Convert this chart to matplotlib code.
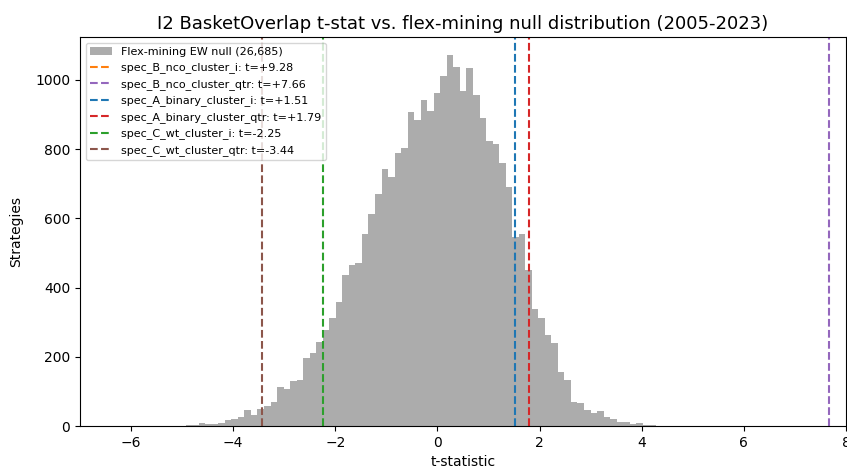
import matplotlib

matplotlib.use("Agg")
import matplotlib.pyplot as plt
import numpy as np

# histogram counts; bins of equal width starting
# at EDGE0 + FIRST_BIN * WIDTH
EDGE0 = -0.072
WIDTH = 0.1279
FIRST_BIN = -40
counts = [
    0, 1, 4, 3, 9, 5, 7, 10, 17, 21,
    27, 45, 33, 48, 59, 70, 112, 106, 130, 133,
    196, 210, 242, 277, 311, 357, 436, 465, 472, 555,
    613, 669, 742, 720, 790, 804, 908, 884, 942, 911,
    963, 1011, 1072, 1038, 968, 1035, 955, 889, 824, 814,
    761, 692, 547, 554, 451, 337, 313, 263, 239, 157,
    133, 70, 66, 46, 39, 44, 25, 21, 11, 11,
    6, 9, 4, 2, 1, 1, 0, 1,
]
n_null = 26685

spec_names = [
    "spec_B_nco_cluster_i",
    "spec_B_nco_cluster_qtr",
    "spec_A_binary_cluster_i",
    "spec_A_binary_cluster_qtr",
    "spec_C_wt_cluster_i",
    "spec_C_wt_cluster_qtr",
]
spec_tstats = [9.28, 7.66, 1.51, 1.79, -2.25, -3.44]
spec_colors = ["tab:orange", "tab:purple", "tab:blue", "tab:red", "tab:green", "tab:brown"]

edges = EDGE0 + WIDTH * np.arange(FIRST_BIN, FIRST_BIN + len(counts) + 1)
centers = 0.5 * (edges[:-1] + edges[1:])

fig = plt.figure(figsize=(8.47, 4.69), dpi=100)
ax = fig.add_axes([80 / 847, 43 / 469, 766 / 847, 389 / 469])

ax.hist(centers, bins=edges, weights=counts, color="gray", alpha=0.65,
        label=f"Flex-mining EW null ({n_null:,})")
for name, t, c in zip(spec_names, spec_tstats, spec_colors):
    ax.axvline(t, color=c, linestyle="--", linewidth=1.5, label=f"{name}: t={t:+.2f}")

ax.set_xlim(-7, 8)
ax.set_ylim(0, 1124)
ax.set_xlabel("t-statistic")
ax.set_ylabel("Strategies", labelpad=9)
ax.set_title("I2 BasketOverlap t-stat vs. flex-mining null distribution (2005-2023)", fontsize=13)
ax.legend(loc="upper left", fontsize=8)

fig.savefig("out.png", dpi=100)
